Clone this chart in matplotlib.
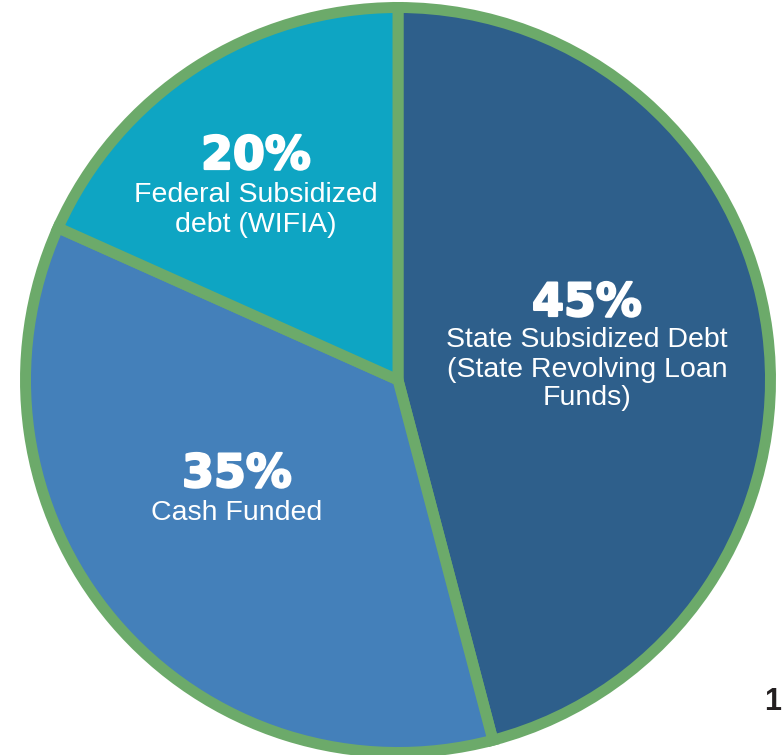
import matplotlib
matplotlib.use("Agg")
import matplotlib.pyplot as plt
import matplotlib.patheffects as pe

# Data
categories = ["State Subsidized Debt\n(State Revolving Loan\nFunds)",
              "Cash Funded",
              "Federal Subsidized\ndebt (WIFIA)"]
pct_labels = ["45%", "35%", "20%"]
shares = [45.9, 35.8, 18.3]   # wedge sizes as drawn in the picture
colors = ["#2E5F8B", "#4480BA", "#0EA5C3"]
edge_color = "#6CAA6A"
page_number = "1"

W, H = 783, 755
fig = plt.figure(figsize=(W / 100, H / 100), dpi=100)
ax = fig.add_axes([0, 0, 1, 1])

cx_pix, cy_pix = 398, 380

ax.pie(shares, colors=colors, startangle=90, counterclock=False,
       radius=372.5, center=(0, 0),
       wedgeprops=dict(edgecolor=edge_color, linewidth=7.9))

ax.set_xlim(-cx_pix, W - cx_pix)
ax.set_ylim(-(H - cy_pix), cy_pix)
ax.set_aspect("equal")
ax.axis("off")

def px(x, y):
    return x - cx_pix, cy_pix - y

# label layout: (center x, baseline of percent, baselines of text lines)
layout = [
    (587, 316, [347, 377, 405]),
    (237, 487, [520]),
    (256, 169, [202, 232]),
]

for cat, pct, (lx, pb, lines) in zip(categories, pct_labels, layout):
    x, y = px(lx, pb)
    ax.text(x, y, pct, ha="center", va="baseline", color="white",
            fontsize=33, fontweight="bold", family="DejaVu Sans",
            path_effects=[pe.withStroke(linewidth=1.6, foreground="white")])
    for line, b in zip(cat.split("\n"), lines):
        x, y = px(lx, b)
        ax.text(x, y, line, ha="center", va="baseline", color="white",
                fontsize=20.5, family="Liberation Sans")

x, y = px(781, 710)
ax.text(x, y, page_number, ha="right", va="baseline", color="#231F20",
        fontsize=22, fontweight="bold", family="Liberation Sans")

fig.savefig("out.png", dpi=100, facecolor="white")
